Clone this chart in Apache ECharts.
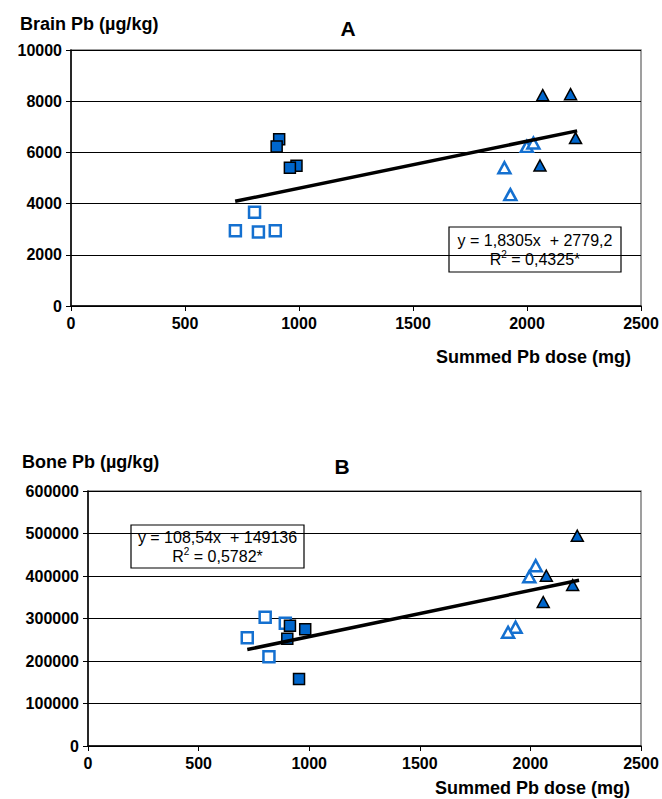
<!DOCTYPE html>
<html>
<head>
<meta charset="utf-8">
<script src="https://cdn.jsdelivr.net/npm/echarts@6/dist/echarts.min.js"></script>
<style>
html, body { margin: 0; padding: 0; background: #fff; }
#main { width: 662px; height: 799px; }
</style>
</head>
<body>
<div id="main"></div>
<script>
// axis ticks
var doseTicks = [0, 500, 1000, 1500, 2000, 2500];
var brainTicks = [0, 2000, 4000, 6000, 8000, 10000];
var boneTicks = [0, 100000, 200000, 300000, 400000, 500000, 600000];

// panel A - brain Pb vs summed dose
var brainFilledSq = [[913, 6510], [902, 6235], [989, 5480], [960, 5400]];
var brainOpenSq = [[805, 3660], [721, 2940], [822, 2890], [896, 2940]];
var brainFilledTri = [[2069, 8235], [2191, 8275], [2213, 6560], [2057, 5490]];
var brainOpenTri = [[1999, 6235], [2028, 6365], [1901, 5400], [1927, 4350]];
var brainTrend = [[720, 4090], [2220, 6840]];
var brainEq = ['y = 1,8305x  + 2779,2', 'R{sup|2} = 0,4325*'];

// panel B - bone Pb vs summed dose
var boneOpenSq = [[801, 302800], [720, 254800], [818, 210100], [892, 288700]];
var boneFilledSq = [[913, 283000], [982, 274600], [901, 252500], [954, 157600]];
var boneFilledTri = [[2212, 494800], [2072, 400700], [2191, 378800], [2058, 338800]];
var boneOpenTri = [[2024, 424200], [1995, 398400], [1933, 279300], [1899, 267500]];
var boneTrend = [[720, 227000], [2220, 390000]];
var boneEq = ['y = 108,54x  + 149136', 'R{sup|2} = 0,5782*'];

var FONT = '"Liberation Sans", Arial, sans-serif';
var BLUE = '#0066cc';
var OPENBLUE = '#1470d0';

function marks(data, sym, filled, idx) {
    return {
        type: 'scatter',
        xAxisIndex: idx,
        yAxisIndex: idx,
        symbol: sym,
        symbolSize: sym === 'rect' ? 11 : [12, 11],
        itemStyle: filled
            ? { color: BLUE, borderColor: '#000', borderWidth: 1.5, opacity: 1 }
            : { color: '#fff', borderColor: OPENBLUE, borderWidth: 2.5, opacity: 1 },
        data: data,
        z: 3
    };
}

function trend(data, idx) {
    return {
        type: 'line',
        xAxisIndex: idx,
        yAxisIndex: idx,
        data: data,
        symbol: 'none',
        lineStyle: { color: '#000', width: 3.5 },
        z: 4
    };
}

function xAx(idx) {
    return {
        type: 'value',
        gridIndex: idx,
        min: doseTicks[0],
        max: doseTicks[doseTicks.length - 1],
        interval: doseTicks[1] - doseTicks[0],
        axisLine: { lineStyle: { color: '#000', width: 1.5 } },
        axisTick: { show: true, length: 5, lineStyle: { color: '#000' } },
        splitLine: { show: false },
        axisLabel: { color: '#000', fontSize: 16, fontWeight: 'bold', fontFamily: FONT, margin: 9,
            formatter: function (v) { return String(v); } }
    };
}

function yAx(idx, ticks) {
    return {
        type: 'value',
        gridIndex: idx,
        min: ticks[0],
        max: ticks[ticks.length - 1],
        interval: ticks[1] - ticks[0],
        axisLine: { show: true, lineStyle: { color: '#000', width: 1.5 } },
        axisTick: { show: true, length: 5, lineStyle: { color: '#000' } },
        splitLine: { show: true, lineStyle: { color: '#000', width: 1 } },
        axisLabel: { color: '#000', fontSize: 16, fontWeight: 'bold', fontFamily: FONT, margin: 9,
            formatter: function (v) { return String(v); } }
    };
}

function label(text, x, y, size, align) {
    return {
        type: 'text',
        x: x, y: y,
        style: { text: text, font: 'bold ' + size + 'px ' + FONT, fill: '#000',
            textAlign: align || 'left', textVerticalAlign: 'middle' },
        z: 10
    };
}

function eqBox(lines, x, y, w, h) {
    return {
        type: 'group',
        z: 10,
        children: [
            { type: 'rect', shape: { x: x, y: y, width: w, height: h },
              style: { fill: '#fff', stroke: '#000', lineWidth: 1.2 } },
            { type: 'text', x: x + w / 2, y: y + h / 2,
              style: { text: lines.join('\n'), font: '16px ' + FONT, fill: '#000',
                  textAlign: 'center', textVerticalAlign: 'middle', lineHeight: 19,
                  rich: { sup: { fontSize: 10, fontFamily: FONT, verticalAlign: 'top', lineHeight: 12, padding: [0, 0, 6, 0] } } } }
        ]
    };
}

var chart = echarts.init(document.getElementById('main'), null, { renderer: 'svg' });
chart.setOption({
    animation: false,
    backgroundColor: '#fff',
    grid: [
        { left: 71, top: 50, width: 570, height: 256, show: true, borderColor: '#808080', borderWidth: 1.5 },
        { left: 88, top: 491, width: 553, height: 255, show: true, borderColor: '#808080', borderWidth: 1.5 }
    ],
    xAxis: [xAx(0), xAx(1)],
    yAxis: [yAx(0, brainTicks), yAx(1, boneTicks)],
    series: [
        marks(brainOpenSq, 'rect', false, 0),
        marks(brainFilledSq, 'rect', true, 0),
        marks(brainOpenTri, 'triangle', false, 0),
        marks(brainFilledTri, 'triangle', true, 0),
        trend(brainTrend, 0),
        marks(boneOpenSq, 'rect', false, 1),
        marks(boneFilledSq, 'rect', true, 1),
        marks(boneOpenTri, 'triangle', false, 1),
        marks(boneFilledTri, 'triangle', true, 1),
        trend(boneTrend, 1)
    ],
    graphic: [
        label('Brain Pb (\u00b5g/kg)', 20, 24, 18),
        label('A', 348, 28, 21, 'center'),
        label('Summed Pb dose (mg)', 631, 357, 18, 'right'),
        eqBox(brainEq, 449, 227, 172, 45),
        label('Bone Pb (\u00b5g/kg)', 22, 462, 18),
        label('B', 342, 466, 21, 'center'),
        label('Summed Pb dose (mg)', 630, 788, 18, 'right'),
        eqBox(boneEq, 131, 525, 173, 43)
    ]
});
</script>
</body>
</html>
